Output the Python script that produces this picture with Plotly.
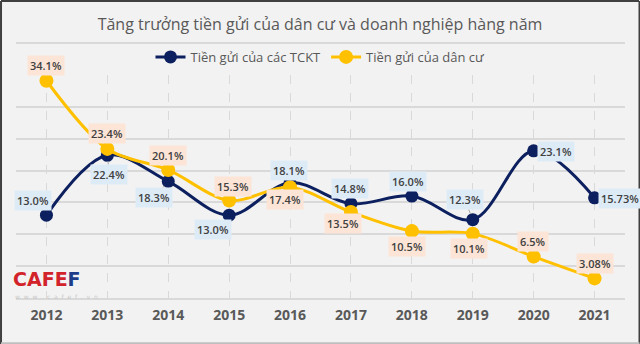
import plotly.graph_objects as go

years = ["2012", "2013", "2014", "2015", "2016", "2017", "2018", "2019", "2020", "2021"]
tckt = [13.0, 22.4, 18.3, 13.0, 18.1, 14.8, 16.0, 12.3, 23.1, 15.73]
dancu = [34.1, 23.4, 20.1, 15.3, 17.4, 13.5, 10.5, 10.1, 6.5, 3.08]
tckt_labels = ["13.0%", "22.4%", "18.3%", "13.0%", "18.1%", "14.8%", "16.0%", "12.3%", "23.1%", "15.73%"]
dancu_labels = ["34.1%", "23.4%", "20.1%", "15.3%", "17.4%", "13.5%", "10.5%", "10.1%", "6.5%", "3.08%"]

# label offsets (pixels) – styling only
tckt_off = [(-13, -15), (2, 19), (-14, 16), (-16, 14), (-1, -12), (-1, -15), (-4, -15), (-8, -20), (22, 1), (25, 1)]
dancu_off = [(0, -15), (0, -15), (0, -14), (4, -14), (-5, 12), (-8, 12), (-5, 15), (-4, 15), (-1, -15), (0, -15)]

NAVY = "#0c1f5e"
GOLD = "#ffc000"
BG = "#f2f2f2"
GRID = "#d9d9d9"
TXT = "#595959"

fig = go.Figure()
fig.add_trace(go.Scatter(
    x=years, y=tckt, name="Tiền gửi của các TCKT", mode="lines+markers",
    line=dict(color=NAVY, width=3, shape="spline", smoothing=1.0),
    marker=dict(color=NAVY, size=13)))
fig.add_trace(go.Scatter(
    x=years, y=dancu, name="Tiền gửi của dân cư", mode="lines+markers",
    line=dict(color=GOLD, width=3, shape="spline", smoothing=0.9),
    marker=dict(color=GOLD, size=14)))

lab_font = dict(family="Open Sans", size=11, color="#404040", weight=600)
ann = []
for i, (v, t, (ax, ay)) in enumerate(zip(tckt, tckt_labels, tckt_off)):
    ann.append(dict(x=i, y=v, xref="x", yref="y", text=t, showarrow=True,
                    ax=ax, ay=ay, arrowhead=0, arrowwidth=1, arrowcolor="#a6a6a6",
                    standoff=6, bgcolor="#ddebf7", borderpad=2, font=lab_font))
for i, (v, t, (ax, ay)) in enumerate(zip(dancu, dancu_labels, dancu_off)):
    ann.append(dict(x=i, y=v, xref="x", yref="y", text=t, showarrow=True,
                    ax=ax, ay=ay, arrowhead=0, arrowwidth=1, arrowcolor="#a6a6a6",
                    standoff=7, bgcolor="#fce4d6", borderpad=2, font=lab_font))

# logo watermark
ann.append(dict(xref="paper", yref="paper", x=-0.006, y=0.085, xanchor="left", yanchor="middle",
                showarrow=False, borderpad=0,
                text="CAFE<span style='color:#1f3c88'>F</span>",
                font=dict(family="DejaVu Sans", size=19, color="#d2232a", weight=900)))
ann.append(dict(xref="paper", yref="paper", x=-0.004, y=0.008, xanchor="left", yanchor="middle",
                showarrow=False, borderpad=0, text="w  w  w  .  c  a  f  e  f  .  v  n",
                font=dict(family="DejaVu Sans", size=6, color="#c8c8c8")))

shapes = [
    dict(type="line", xref="paper", yref="paper", x0=0, x1=1, y0=1.1435, y1=1.1435,
         line=dict(color=GRID, width=2)),
    dict(type="line", xref="paper", yref="paper", x0=-0.0246, x1=1.0230, y0=1.3318, y1=1.3318,
         line=dict(color="#404040", width=2)),
    dict(type="line", xref="paper", yref="paper", x0=-0.0246, x1=-0.0246, y0=-0.21, y1=1.3318,
         line=dict(color="#404040", width=2)),
    dict(type="line", xref="paper", yref="paper", x0=1.0238, x1=1.0238, y0=-0.21, y1=1.3318,
         line=dict(color="#404040", width=2)),
    dict(type="line", xref="paper", yref="paper", x0=-0.0246, x1=1.0238, y0=-0.2025, y1=-0.2025,
         line=dict(color="#bfbfbf", width=2)),
]

fig.update_layout(
    width=640, height=344,
    margin=dict(l=15.5, r=14.5, t=75, b=46),
    paper_bgcolor=BG, plot_bgcolor=BG,
    title=dict(text="Tăng trưởng tiền gửi của dân cư và doanh nghiệp hàng năm",
               x=0.5, xanchor="center", y=1 - 24 / 344, yanchor="middle",
               font=dict(family="Open Sans", size=16, color=TXT)),
    legend=dict(orientation="h", x=0.5, xanchor="center", y=1.081, yanchor="middle",
                font=dict(family="Open Sans", size=13, color=TXT), bgcolor="rgba(0,0,0,0)",
                itemwidth=30),
    showlegend=True,
    annotations=ann,
    shapes=shapes,
    xaxis=dict(type="category", showgrid=True, griddash="dash", gridcolor=GRID, gridwidth=1,
               showline=True, linecolor=GRID, linewidth=2, zeroline=False,
               ticks="", ticklabelstandoff=3,
               tickfont=dict(family="Open Sans", size=14, color=TXT, weight="bold"),
               range=[-0.5, 9.5], fixedrange=True),
    yaxis=dict(range=[0, 35], dtick=5, showticklabels=False, gridcolor=GRID, gridwidth=1.5,
               zeroline=False, fixedrange=True),
)

fig.write_html("out.html")
